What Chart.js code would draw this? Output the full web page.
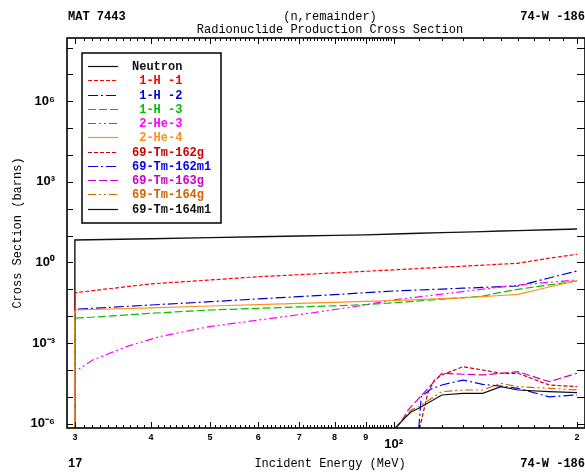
<!DOCTYPE html>
<html><head><meta charset="utf-8">
<script src="https://cdn.jsdelivr.net/npm/chart.js@4.4.1/dist/chart.umd.min.js"></script>
<style>html,body{margin:0;padding:0;background:#fff;}canvas{display:block;}</style>
</head><body>
<canvas id="c" width="585" height="472"></canvas>
<script>
// ---- data (energies in MeV, cross sections in barns; first entries sit below the axis floor) ----
const seriesLabels = ['Neutron',' 1-H -1',' 1-H -2',' 1-H -3',' 2-He-3',' 2-He-4','69-Tm-162g','69-Tm-162m1','69-Tm-163g','69-Tm-164g','69-Tm-164m1'];
const energyLight = [30, 30, 40, 50, 60, 70, 80, 90, 100, 110, 120, 130, 140, 150, 160, 180, 200];
const neutron = [1e-9, 6.88, 7.69, 8.45, 9.05, 9.70, 10.2, 10.7, 11.5, 12.2, 12.9, 13.5, 14.1, 14.8, 15.4, 16.5, 17.7];
const h1 = [1e-9, 0.0751, 0.160, 0.223, 0.296, 0.351, 0.410, 0.470, 0.531, 0.598, 0.663, 0.728, 0.794, 0.865, 0.934, 1.446, 2.02];
const h2 = [1e-9, 0.0181, 0.0262, 0.0347, 0.0440, 0.0536, 0.0636, 0.0751, 0.0869, 0.0946, 0.1025, 0.1105, 0.118, 0.1258, 0.1334, 0.265, 0.483];
const h3 = [1e-9, 0.00837, 0.01285, 0.01705, 0.0197, 0.0221, 0.0244, 0.0268, 0.0316, 0.0372, 0.0430, 0.0490, 0.0561, 0.0776, 0.1005, 0.1466, 0.205];
const he4 = [1e-9, 0.01705, 0.0206, 0.0240, 0.0271, 0.0300, 0.0327, 0.0359, 0.0385, 0.0416, 0.0449, 0.0481, 0.0533, 0.059, 0.0655, 0.1225, 0.210];
const energyHe3 = [30, 30, 32.1, 36.4, 41.3, 49.8, 60.1, 72.5, 87.5, 100, 120, 140, 160, 180, 200];
const he3 = [1e-9, 8.6e-5, 2.34e-4, 7.3e-4, 1.73e-3, 4.07e-3, 7.2e-3, 0.0128, 0.024, 0.0405, 0.0667, 0.1014, 0.145, 0.183, 0.223];
const energyTm162g = [110.3, 113.8, 116.7, 120, 130, 140, 150, 160, 180, 200];
const tm162g = [6.5e-7, 1.39e-5, 4.2e-5, 6.5e-5, 1.32e-4, 9.95e-5, 7.5e-5, 7.5e-5, 2.75e-5, 2.38e-5];
const energyTm162m1 = [110, 111, 115, 120, 130, 140, 150, 160, 180, 200];
const tm162m1 = [6.5e-7, 1.0e-5, 1.9e-5, 2.75e-5, 4.2e-5, 2.92e-5, 2.5e-5, 2.07e-5, 1.0e-5, 1.17e-5];
const energyTm163g = [100.3, 103, 105.6, 110, 120, 130, 140, 150, 160, 180, 200];
const tm163g = [6.5e-7, 1.18e-6, 3.2e-6, 8.8e-6, 7.5e-5, 6.9e-5, 6.5e-5, 7.5e-5, 8.6e-5, 3.65e-5, 7.5e-5];
const energyTm164 = [100.5, 104.3, 106.8, 110, 120, 130, 140, 150, 160, 180, 200];
const tm164g = [6.5e-7, 1.82e-6, 3.2e-6, 4.28e-6, 1.55e-5, 1.79e-5, 1.79e-5, 3.18e-5, 2.38e-5, 2.07e-5, 1.79e-5];
const tm164m1 = [6.5e-7, 1.62e-6, 2.7e-6, 3.73e-6, 1.17e-5, 1.35e-5, 1.35e-5, 2.38e-5, 1.79e-5, 1.55e-5, 1.42e-5];

// ---- axis ticks ----
const xTickValues = [30, 40, 50, 60, 70, 80, 90, 100, 200];
const xTickLabels = ['3', '4', '5', '6', '7', '8', '9', '10²', '2'];
const yTickValues = [1e-6,1e-5,1e-4,1e-3,1e-2,1e-1,1,10,100,1e3,1e4,1e5,1e6,1e7,1e8];
const yTickLabels = ['10⁻⁶','','','10⁻³','','','10⁰','','','10³','','','10⁶','',''];

// ---- styles ----
const colors = ['#111111','#ff0000','#0000c8','#00c000','#ff00ff','#ff9020','#cc0000','#0000ff','#cc00cc','#cc6600','#111111'];
const dashes = [[],[4,2],[10,3,2,3],[8,3],[8,3,2,3,2,3],[],[4,2],[10,3,2,3],[8,3],[8,3,2,3,2,3],[]];

const xs = [energyLight, energyLight, energyLight, energyLight, energyHe3, energyLight, energyTm162g, energyTm162m1, energyTm163g, energyTm164, energyTm164];
const ys = [neutron, h1, h2, h3, he3, he4, tm162g, tm162m1, tm163g, tm164g, tm164m1];

const datasets = ys.map((vals, i) => ({
  label: seriesLabels[i],
  data: vals.map((v, k) => ({x: xs[i][k], y: v})),
  borderColor: colors[i],
  borderDash: dashes[i],
  borderWidth: i === 0 ? 1.4 : 1.2,
  pointRadius: 0,
  tension: 0,
  fill: false,
  order: 20 - i
}));

const MONO = "'Liberation Mono', 'DejaVu Sans Mono', monospace";
const SANS = "'Liberation Sans', Arial, sans-serif";

const decor = {
  id: 'decor',
  afterDraw(chart) {
    const {ctx, chartArea: a, scales: {x, y}} = chart;
    ctx.save();
    // tick marks (inward)
    ctx.strokeStyle = '#000';
    ctx.lineWidth = 1;
    ctx.beginPath();
    yTickValues.forEach(v => {
      const py = Math.round(y.getPixelForValue(v)) + 0.5;
      ctx.moveTo(a.left, py); ctx.lineTo(a.left + 6, py);
      ctx.moveTo(a.right, py); ctx.lineTo(a.right - 8, py);
    });
    const minor = [];
    for (let e = 30; e <= 100; e += 1) minor.push(e);
    for (let e = 110; e <= 200; e += 10) minor.push(e);
    minor.forEach(v => {
      const px = Math.round(x.getPixelForValue(v)) + 0.5;
      const len = xTickValues.includes(v) ? 6 : 3;
      ctx.moveTo(px, a.bottom); ctx.lineTo(px, a.bottom - len);
      ctx.moveTo(px, a.top); ctx.lineTo(px, a.top + len);
    });
    ctx.stroke();
    // frame
    ctx.lineWidth = 1.6;
    ctx.strokeRect(a.left, a.top, a.right - a.left, a.bottom - a.top);

    // legend box
    const bx = 82, by = 53, bw = 139, bh = 170;
    ctx.fillStyle = '#fff';
    ctx.fillRect(bx, by, bw, bh);
    ctx.lineWidth = 1.5;
    ctx.strokeStyle = '#000';
    ctx.strokeRect(bx, by, bw, bh);
    ctx.font = 'bold 12px ' + MONO;
    ctx.textBaseline = 'middle';
    ctx.textAlign = 'left';
    seriesLabels.forEach((lab, i) => {
      const ry = Math.round(66 + i * 14.25) + 0.5;
      ctx.save();
      ctx.strokeStyle = colors[i];
      ctx.lineWidth = 1.2;
      ctx.setLineDash(dashes[i]);
      ctx.beginPath(); ctx.moveTo(88, ry); ctx.lineTo(118, ry); ctx.stroke();
      ctx.restore();
      ctx.fillStyle = colors[i];
      ctx.fillText(lab, 132, ry);
    });

    // titles
    ctx.fillStyle = '#000';
    ctx.textBaseline = 'middle';
    ctx.font = 'bold 12px ' + MONO;
    ctx.textAlign = 'left';
    ctx.fillText('MAT 7443', 68, 17);
    ctx.fillText('17', 68, 464);
    ctx.textAlign = 'right';
    ctx.fillText('74-W -186', 585, 17);
    ctx.fillText('74-W -186', 585, 464);
    ctx.font = '12px ' + MONO;
    ctx.textAlign = 'center';
    ctx.fillText('(n,remainder)', 330, 17);
    ctx.fillText('Radionuclide Production Cross Section', 330, 30);
    ctx.fillText('Incident Energy (MeV)', 330, 464);
    ctx.save();
    ctx.translate(18, 233);
    ctx.rotate(-Math.PI / 2);
    ctx.fillText('Cross Section (barns)', 0, 0);
    ctx.restore();
    ctx.restore();
  }
};

new Chart(document.getElementById('c'), {
  type: 'line',
  data: { datasets },
  options: {
    responsive: false,
    animation: false,
    devicePixelRatio: 1,
    layout: { padding: { top: 38, right: -3, bottom: 0, left: 0 } },
    plugins: { legend: { display: false }, tooltip: { enabled: false }, title: { display: false } },
    scales: {
      x: {
        type: 'logarithmic',
        min: 29.12, max: 206.1,
        grid: { display: false, drawTicks: false },
        border: { display: false },
        afterFit: s => { s.height = 44; },
        afterBuildTicks: s => { s.ticks = xTickValues.map(v => ({ value: v })); },
        ticks: {
          autoSkip: false, maxRotation: 0, minRotation: 0, padding: 4, color: '#000',
          font: c => (c.tick && c.tick.value === 100) ? { family: SANS, size: 13, weight: 'bold', lineHeight: 1.85 } : { family: SANS, size: 9, weight: 'bold', lineHeight: 1.2 },
          callback: v => { const i = xTickValues.indexOf(v); return i >= 0 ? xTickLabels[i] : ''; }
        }
      },
      y: {
        type: 'logarithmic',
        min: 6.89e-7, max: 2.28e8,
        grid: { display: false, drawTicks: false },
        border: { display: false },
        afterFit: s => { s.width = 67; },
        afterBuildTicks: s => { s.ticks = yTickValues.map(v => ({ value: v })); },
        ticks: {
          autoSkip: false, padding: 12, color: '#000',
          font: { family: SANS, size: 13, weight: 'bold' },
          callback: v => { const i = yTickValues.findIndex(t => Math.abs(Math.log10(t) - Math.log10(v)) < 1e-6); return i >= 0 ? yTickLabels[i] : ''; }
        }
      }
    }
  },
  plugins: [decor]
});
</script>
</body></html>
